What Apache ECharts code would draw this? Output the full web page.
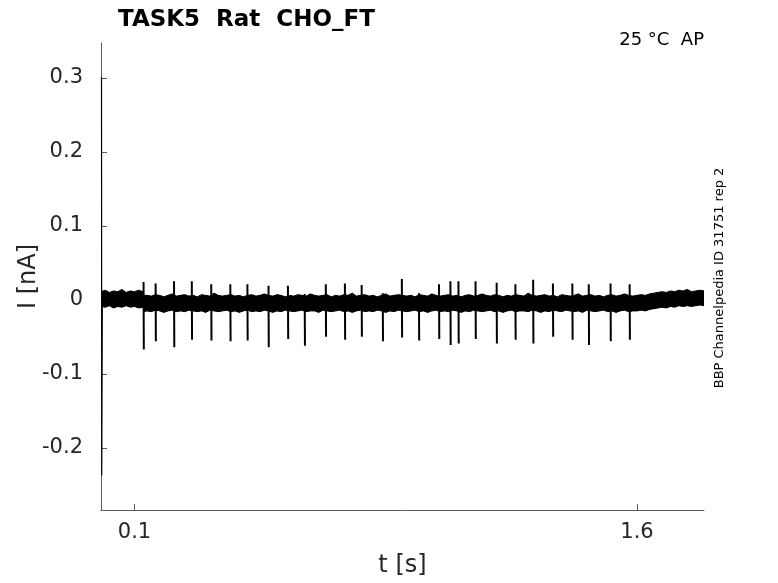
<!DOCTYPE html>
<html>
<head>
<meta charset="utf-8">
<script src="https://cdn.jsdelivr.net/npm/echarts@6/dist/echarts.min.js"></script>
<style>
    html, body {margin: 0; padding: 0; background: #fff;}
    #echart1 {width: 778px; height: 583px;}
</style>
</head>
<body>
<div id="echart1"></div>
<script>
// noise band of the recording (envelope)
var bandTime = [0, 0.0125, 0.025, 0.0375, 0.05, 0.0625, 0.075, 0.0875, 0.1, 0.1125, 0.126, 0.128,
    0.1375,
    0.15, 0.1625, 0.175, 0.1875, 0.2, 0.2125, 0.225, 0.2375,
    0.25, 0.2625, 0.275, 0.2875, 0.3, 0.3125, 0.325, 0.3375,
    0.35, 0.3625, 0.375, 0.3875, 0.4, 0.4125, 0.425, 0.4375,
    0.45, 0.4625, 0.475, 0.4875, 0.5, 0.5125, 0.525, 0.5375,
    0.55, 0.5625, 0.575, 0.5875, 0.6, 0.6125, 0.625, 0.6375,
    0.65, 0.6625, 0.675, 0.6875, 0.7, 0.7125, 0.725, 0.7375,
    0.75, 0.7625, 0.775, 0.7875, 0.8, 0.8125, 0.825, 0.8375,
    0.85, 0.8625, 0.875, 0.8875, 0.9, 0.9125, 0.925, 0.9375,
    0.95, 0.9625, 0.975, 0.9875, 1.0, 1.0125, 1.025, 1.0375,
    1.05, 1.0625, 1.075, 1.0875, 1.1, 1.1125, 1.125, 1.1375,
    1.15, 1.1625, 1.175, 1.1875, 1.2, 1.2125, 1.225, 1.2375,
    1.25, 1.2625, 1.275, 1.2875, 1.3, 1.3125, 1.325, 1.3375,
    1.35, 1.3625, 1.375, 1.3875, 1.4, 1.4125, 1.425, 1.4375,
    1.45, 1.4625, 1.475, 1.4875, 1.5, 1.5125, 1.525, 1.5375,
    1.55, 1.5625, 1.575, 1.5875,
    1.6, 1.6125, 1.625, 1.6375, 1.65, 1.6625, 1.675, 1.6875, 1.7,
    1.7125, 1.725, 1.7375, 1.75, 1.7625, 1.775, 1.7875, 1.8];
var bandUpper = [0.011, 0.013, 0.010, 0.012, 0.011, 0.014, 0.010, 0.012, 0.011, 0.013, 0.011, 0.006,
    0.006, 0.005, 0.007, 0.006, 0.004, 0.006, 0.008, 0.005, 0.006, 0.007,
    0.005, 0.006, 0.004, 0.007, 0.006, 0.005, 0.009, 0.006, 0.005, 0.006,
    0.007, 0.005, 0.006, 0.004, 0.006, 0.007, 0.005, 0.006, 0.008, 0.006,
    0.005, 0.007, 0.006, 0.004, 0.006, 0.005, 0.007, 0.006, 0.005, 0.008,
    0.006, 0.005, 0.006, 0.007, 0.004, 0.006, 0.005, 0.007, 0.006, 0.009,
    0.005, 0.006, 0.007, 0.005, 0.006, 0.004, 0.006, 0.008, 0.005, 0.006,
    0.007, 0.006, 0.005, 0.006, 0.004, 0.007, 0.006, 0.005, 0.008, 0.006,
    0.005, 0.006, 0.007, 0.005, 0.006, 0.004, 0.006, 0.007, 0.005, 0.006,
    0.008, 0.006, 0.005, 0.007, 0.006, 0.004, 0.006, 0.005, 0.007, 0.006,
    0.005, 0.009, 0.006, 0.005, 0.006, 0.007, 0.005, 0.006, 0.004, 0.007,
    0.006, 0.005, 0.006, 0.008, 0.005, 0.006, 0.007, 0.005, 0.006, 0.004,
    0.006, 0.007, 0.005, 0.006, 0.008, 0.006, 0.005,
    0.006, 0.007, 0.006, 0.008, 0.009, 0.010, 0.011, 0.010, 0.012,
    0.011, 0.013, 0.012, 0.014, 0.011, 0.012, 0.013, 0.012];
var bandLower = [-0.009, -0.010, -0.008, -0.011, -0.009, -0.010, -0.008, -0.010, -0.009, -0.011, -0.010, -0.016,
    -0.015, -0.016, -0.014, -0.015, -0.017, -0.015, -0.014, -0.016, -0.015, -0.016,
    -0.014, -0.015, -0.016, -0.015, -0.017, -0.014, -0.015, -0.016, -0.015, -0.014,
    -0.016, -0.015, -0.017, -0.015, -0.014, -0.016, -0.015, -0.016, -0.014, -0.015,
    -0.017, -0.015, -0.016, -0.014, -0.015, -0.016, -0.015, -0.014, -0.016, -0.015,
    -0.015, -0.017, -0.014, -0.015, -0.016, -0.015, -0.014, -0.016, -0.015, -0.017,
    -0.015, -0.014, -0.016, -0.015, -0.016, -0.014, -0.015, -0.017, -0.015, -0.016,
    -0.014, -0.015, -0.016, -0.015, -0.014, -0.016, -0.015, -0.017, -0.015, -0.014,
    -0.016, -0.015, -0.016, -0.014, -0.015, -0.017, -0.015, -0.016, -0.014, -0.015,
    -0.016, -0.015, -0.014, -0.016, -0.015, -0.017, -0.015, -0.014, -0.016, -0.015,
    -0.015, -0.016, -0.014, -0.015, -0.017, -0.015, -0.016, -0.014, -0.015, -0.016,
    -0.014, -0.015, -0.016, -0.015, -0.017, -0.014, -0.015, -0.016, -0.015, -0.014,
    -0.016, -0.015, -0.017, -0.015, -0.014, -0.016, -0.015,
    -0.015, -0.014, -0.015, -0.013, -0.012, -0.011, -0.010, -0.011, -0.009,
    -0.010, -0.008, -0.009, -0.008, -0.009, -0.008, -0.007, -0.008];

// action currents (time, upward peak, downward peak)
var spikeTime = [0.127, 0.163, 0.218, 0.271, 0.329, 0.386, 0.437, 0.500, 0.558,
    0.608, 0.671, 0.728, 0.778, 0.841, 0.898, 0.949, 1.009, 1.043, 1.067, 1.118, 1.181,
    1.237, 1.290, 1.349, 1.407, 1.456, 1.521, 1.578];
var spikeTop = [0.024, 0.022, 0.025, 0.025, 0.021, 0.021, 0.021, 0.019, 0.019,
    0.008, 0.021, 0.022, 0.020, 0.009, 0.028, 0.009, 0.021, 0.025, 0.025, 0.025, 0.023,
    0.021, 0.027, 0.022, 0.022, 0.021, 0.022, 0.021];
var spikeBottom = [-0.067, -0.056, -0.064, -0.054, -0.055, -0.056, -0.055, -0.064, -0.053,
    -0.062, -0.050, -0.054, -0.050, -0.056, -0.051, -0.055, -0.053, -0.061, -0.059, -0.053, -0.059,
    -0.054, -0.059, -0.050, -0.054, -0.061, -0.056, -0.054];

// capacitive transient at the start
var transientTime = [0.0015, 0.0022, 0.004];
var transientValue = [0.301, -0.237, -0.002];

var xTicks = [0.1, 1.6];
var yTicks = [-0.2, -0.1, 0, 0.1, 0.2, 0.3];

var fontName = 'DejaVu Sans';

var spikeData = [];
for (var j = 0; j < spikeTime.length; j++) {
    spikeData.push([spikeTime[j], spikeTop[j]]);
    spikeData.push([spikeTime[j] + 0.0008, spikeBottom[j]]);
    spikeData.push([spikeTime[j] + 0.001, '-']);
}
var transientData = transientTime.map(function (t, k) { return [t, transientValue[k]]; });

// band drawn as one polygon: upper edge forward, lower edge back
function renderBand(params, api) {
    var pts = [];
    for (var i = 0; i < bandTime.length; i++) {
        pts.push(api.coord([bandTime[i], bandUpper[i]]));
    }
    for (var k = bandTime.length - 1; k >= 0; k--) {
        pts.push(api.coord([bandTime[k], bandLower[k]]));
    }
    return {
        type: 'polygon',
        shape: {points: pts},
        style: {fill: '#000', stroke: '#000', lineWidth: 1}
    };
}

var myChart1 = echarts.init(document.getElementById('echart1'));

var option1 = {
    animation: false,
    backgroundColor: '#fff',
    title: {
        text: 'TASK5  Rat  CHO_FT',
        left: 113,
        top: 4,
        textStyle: {
            fontFamily: fontName,
            fontWeight: 'bold',
            fontSize: 23,
            color: '#000'
        }
    },
    grid: {
        left: 101,
        right: 74,
        top: 43,
        bottom: 71
    },
    xAxis: {
        type: 'value',
        min: 0,
        max: 1.8,
        name: 't [s]',
        nameLocation: 'middle',
        nameGap: 44,
        nameMoveOverlap: false,
        nameTextStyle: {fontFamily: fontName, fontSize: 24, color: '#262626'},
        axisLine: {onZero: false, lineStyle: {color: '#5a5a5a', width: 1}},
        axisTick: {show: true, inside: true, length: 6, customValues: xTicks, lineStyle: {color: '#5a5a5a'}},
        axisLabel: {customValues: xTicks, margin: 12, fontFamily: fontName, fontSize: 21, color: '#262626'},
        splitLine: {show: false}
    },
    yAxis: {
        type: 'value',
        min: -0.284,
        max: 0.347,
        name: 'I [nA]',
        nameLocation: 'middle',
        nameGap: 60,
        nameMoveOverlap: false,
        nameTextStyle: {fontFamily: fontName, fontSize: 24, color: '#262626'},
        axisLine: {show: true, onZero: false, lineStyle: {color: '#5a5a5a', width: 1}},
        axisTick: {show: true, inside: true, length: 6, customValues: yTicks, lineStyle: {color: '#5a5a5a'}},
        axisLabel: {customValues: yTicks, margin: 18, fontFamily: fontName, fontSize: 21, color: '#262626'},
        splitLine: {show: false}
    },
    graphic: [{
        type: 'text',
        right: 74,
        top: 31,
        style: {text: '25 °C  AP', fontFamily: fontName, fontSize: 18, fill: '#000'}
    }, {
        type: 'text',
        x: 720,
        y: 278,
        rotation: Math.PI / 2,
        style: {
            text: 'BBP Channelpedia ID 31751 rep 2',
            fontFamily: fontName,
            fontSize: 13,
            fill: '#000',
            align: 'center',
            verticalAlign: 'middle'
        }
    }],
    series: [{
        type: 'custom',
        renderItem: renderBand,
        data: [0],
        clip: true,
        z: 2
    }, {
        type: 'line',
        data: spikeData,
        symbol: 'none',
        connectNulls: false,
        lineStyle: {color: '#000', width: 2},
        z: 3
    }, {
        type: 'line',
        data: transientData,
        symbol: 'none',
        lineStyle: {color: '#000', width: 1.2},
        z: 3
    }]
};

myChart1.setOption(option1);

window.addEventListener("resize", function () {
    myChart1.resize();
});
</script>
</body>
</html>
